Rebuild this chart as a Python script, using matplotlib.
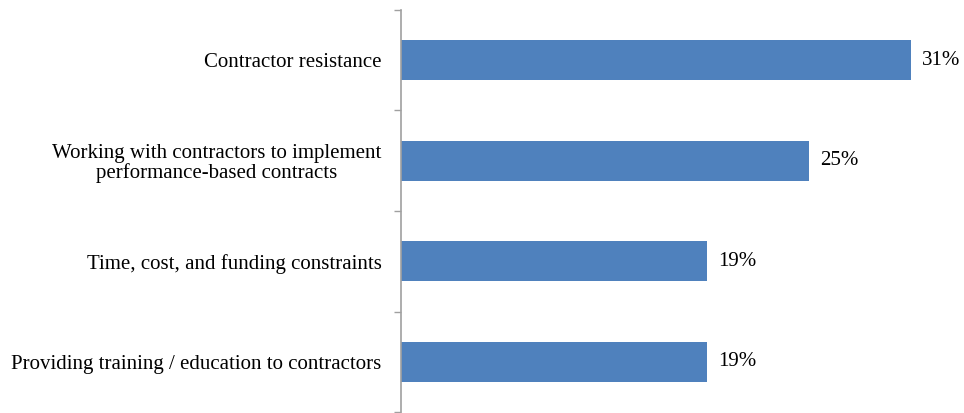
import matplotlib
matplotlib.use("Agg")
import matplotlib.pyplot as plt
import numpy as np

categories = [
    "Contractor resistance",
    "Working with contractors to implement\nperformance-based contracts",
    "Time, cost, and funding constraints",
    "Providing training / education to contractors",
]
values = [31.25, 25.0, 18.75, 18.75]
value_labels = ["31%", "25%", "19%", "19%"]

plt.rcParams['font.family'] = ['Liberation Serif', 'DejaVu Serif']

fig = plt.figure(figsize=(9.64, 4.13), dpi=100)
ax = fig.add_axes([401/964, 1 - 412/413, 555/964, 402/413])

y = np.arange(len(categories))
ax.barh(y, values, height=0.4, color="#4F81BD", zorder=2)
ax.set_xlim(0, 34)
ax.set_ylim(len(categories) - 0.5, -0.5)

for yi, v, lab in zip(y, values, value_labels):
    ax.annotate(lab, xy=(v, yi), xytext=(8, 0), textcoords="offset points",
                va="center", ha="left", fontsize=15, color="black")

ax.set_yticks(y)
ax.set_yticklabels(categories, fontsize=15, linespacing=1.0, multialignment="center")
ax.tick_params(axis="y", which="major", length=0, pad=14)
ax.set_yticks(np.arange(-0.5, len(categories) + 0.5, 1), minor=True)
ax.tick_params(axis="y", which="minor", length=5, width=1, color="#A0A0A0", direction="out")

ax.set_xticks([])
for s in ["top", "right", "bottom"]:
    ax.spines[s].set_visible(False)
ax.spines["left"].set_color("#A0A0A0")
ax.spines["left"].set_linewidth(1.2)

fig.savefig("out.png", dpi=100)
